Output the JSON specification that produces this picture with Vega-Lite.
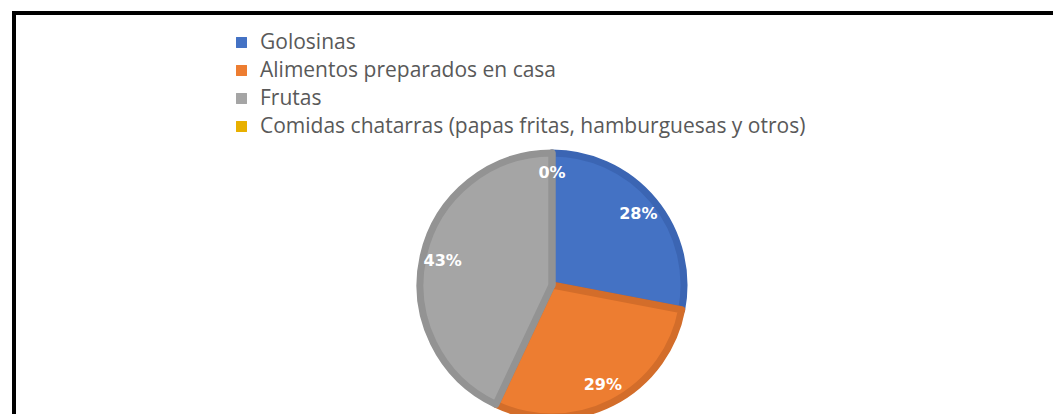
{
  "$schema": "https://vega.github.io/schema/vega-lite/v6.json",
  "width": 1076,
  "height": 544,
  "autosize": {"type": "none"},
  "padding": {"left": 14, "top": 13, "right": 0, "bottom": 0},
  "background": "white",
  "view": {"stroke": "black", "strokeWidth": 4, "fill": "white"},
  "config": {"view": {"stroke": "black", "strokeWidth": 4}},
  "data": {
    "values": [
      {"categoria": "Golosinas", "valor": 28, "orden": 1, "etiqueta": "28%"},
      {"categoria": "Alimentos preparados en casa", "valor": 29, "orden": 2, "etiqueta": "29%"},
      {"categoria": "Frutas", "valor": 43, "orden": 3, "etiqueta": "43%"},
      {"categoria": "Comidas chatarras (papas fritas, hamburguesas y otros)", "valor": 0, "orden": 4, "etiqueta": "0%"}
    ]
  },
  "encoding": {
    "theta": {"field": "valor", "type": "quantitative", "stack": true},
    "order": {"field": "orden", "type": "quantitative"}
  },
  "layer": [
    {
      "mark": {"type": "arc", "outerRadius": 132, "strokeWidth": 7, "strokeJoin": "round"},
      "encoding": {
        "color": {
          "field": "categoria",
          "type": "nominal",
          "scale": {
            "domain": ["Golosinas", "Alimentos preparados en casa", "Frutas", "Comidas chatarras (papas fritas, hamburguesas y otros)"],
            "range": ["#4472C4", "#ED7D31", "#A5A5A5", "#E8B000"]
          },
          "legend": {
            "title": null,
            "orient": "none",
            "legendX": 217,
            "legendY": 19,
            "symbolType": "square",
            "symbolSize": 120,
            "symbolStrokeWidth": 0,
            "labelFont": "Open Sans",
            "labelFontSize": 21,
            "labelColor": "#595959",
            "labelLimit": 1000,
            "labelOffset": 8,
            "rowPadding": 6
          }
        },
        "stroke": {
          "field": "categoria",
          "type": "nominal",
          "scale": {
            "domain": ["Golosinas", "Alimentos preparados en casa", "Frutas", "Comidas chatarras (papas fritas, hamburguesas y otros)"],
            "range": ["#3B65B3", "#D36D2A", "#939393", "#939393"]
          },
          "legend": null
        }
      }
    },
    {
      "mark": {"type": "text", "radius": 112, "font": "DejaVu Sans", "fontWeight": "bold", "fontSize": 16, "fill": "white"},
      "encoding": {"text": {"field": "etiqueta", "type": "nominal"}}
    }
  ]
}
